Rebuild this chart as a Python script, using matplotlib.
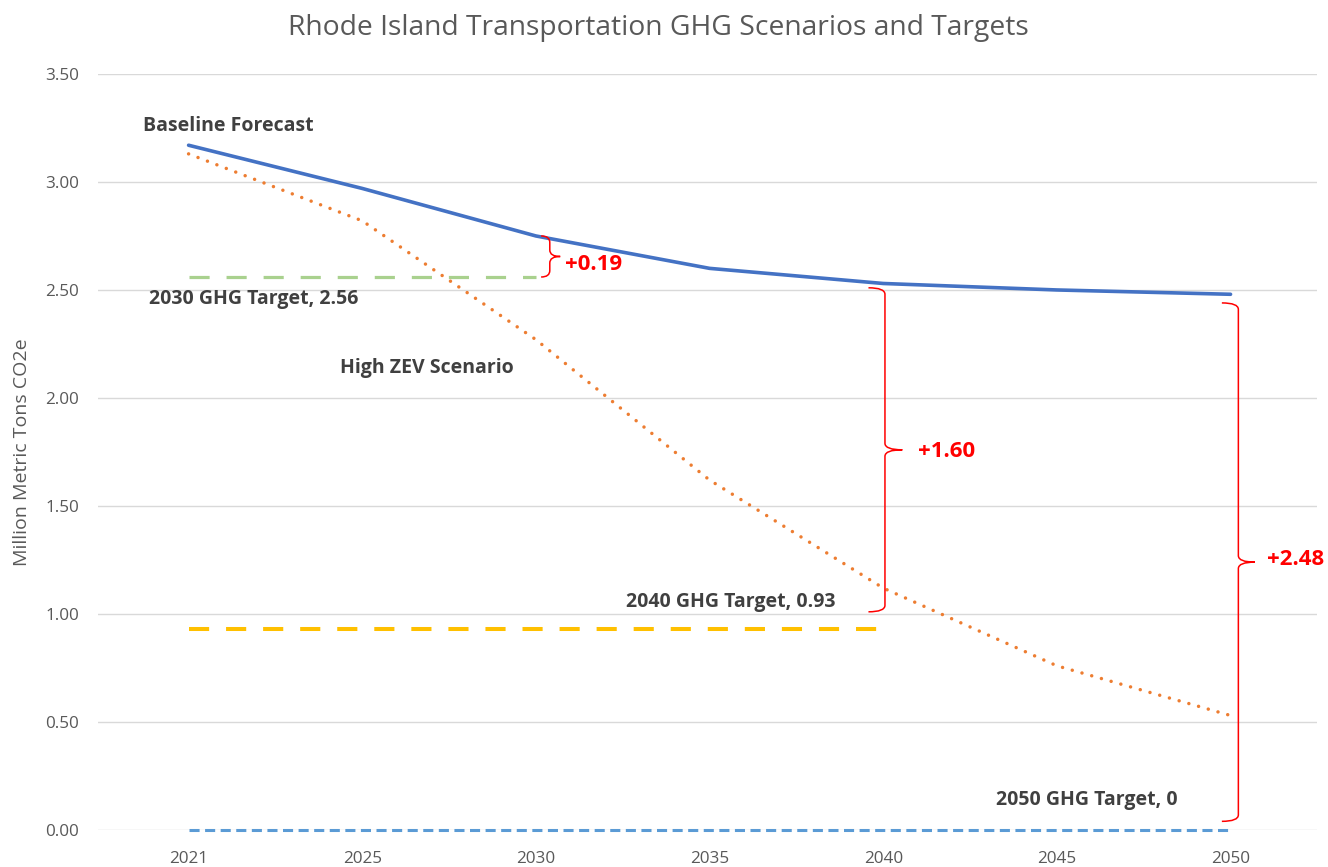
import matplotlib.pyplot as plt
from matplotlib.path import Path
from matplotlib.patches import PathPatch
import numpy as np

years = ['2021', '2025', '2030', '2035', '2040', '2045', '2050']
baseline = [3.17, 2.97, 2.75, 2.60, 2.53, 2.50, 2.48]
high_zev = [3.13, 2.82, 2.27, 1.62, 1.12, 0.76, 0.53]
target_2030 = [2.56, 2.56, 2.56]
target_2040 = [0.93, 0.93, 0.93, 0.93, 0.93]
target_2050 = [0, 0, 0, 0, 0, 0, 0]
gaps = ['+0.19', '+1.60', '+2.48']

plt.rcParams['font.family'] = ['Open Sans', 'DejaVu Sans']

fig = plt.figure(figsize=(13.28, 8.67), dpi=100)
ax = fig.add_axes([0.074, 0.0427, 0.918, 0.872])

x = np.arange(len(years))

ax.plot(x, baseline, color='#4472C4', lw=2.6, solid_capstyle='round', zorder=4)
ax.plot(x, high_zev, color='#ED7D31', lw=2.5, linestyle=(0, (0.01, 2.9)),
        dash_capstyle='round', zorder=4)
ax.plot(x[:3], target_2030, color='#A9D18E', lw=2.3, linestyle=(0, (6.3, 5.3)), zorder=3)
ax.plot(x[:5], target_2040, color='#FFC000', lw=2.9, linestyle=(0, (5.0, 4.2)), zorder=3)
ax.plot(x, target_2050, color='#5B9BD5', lw=2.2, linestyle=(0, (3.3, 1.8)),
        zorder=3, clip_on=False)

ax.set_xlim(-0.52, 6.5)
ax.set_ylim(0, 3.5)
ax.set_xticks(x)
ax.set_xticklabels(years)
ax.set_yticks(np.arange(0, 3.51, 0.5))
ax.set_yticklabels([f'{v:.2f}' for v in np.arange(0, 3.51, 0.5)])
ax.grid(axis='y', color='#D9D9D9', lw=1)
ax.set_axisbelow(True)
for s in ax.spines.values():
    s.set_visible(False)
ax.tick_params(length=0, labelsize=12.3, colors='#595959')
ax.tick_params(axis='x', pad=15)
ax.tick_params(axis='y', pad=14)
ax.set_ylabel('Million Metric Tons CO2e', color='#595959', fontsize=14, labelpad=10)

fig.text(0.496, 0.968, 'Rhode Island Transportation GHG Scenarios and Targets',
         ha='center', va='center', fontsize=20.3, color='#595959')

lab = dict(color='#404040', fontsize=14, fontweight='bold', va='center', ha='left')
ax.text(-0.26, 3.26, 'Baseline Forecast', **lab)
ax.text(-0.23, 2.46, '2030 GHG Target, 2.56', **lab)
ax.text(0.87, 2.14, 'High ZEV Scenario', **lab)
ax.text(2.52, 1.055, '2040 GHG Target, 0.93', **lab)
ax.text(4.65, 0.14, '2050 GHG Target, 0', **lab)


def brace(xl, xh, xt, y0, y1, d=0.03):
    ym = (y0 + y1) / 2
    verts = [(xh, y1), (xl, y1), (xl, y1 - d), (xl, ym + d), (xl, ym), (xt, ym),
             (xt, ym), (xl, ym), (xl, ym - d), (xl, y0 + d), (xl, y0), (xh, y0)]
    codes = [Path.MOVETO, Path.CURVE3, Path.CURVE3, Path.LINETO, Path.CURVE3, Path.CURVE3,
             Path.MOVETO, Path.CURVE3, Path.CURVE3, Path.LINETO, Path.CURVE3, Path.CURVE3]
    ax.add_patch(PathPatch(Path(verts, codes), fill=False, edgecolor='red', lw=1.1,
                           zorder=5, clip_on=False))


braces = [
    (2.08, 2.03, 2.14, 2.56, baseline[2]),
    (4.01, 3.915, 4.11, 1.01, 2.51),
    (6.045, 5.95, 6.14, 0.04, 2.44),
]
gap_pos = [(2.17, 2.62), (4.2, 1.75), (6.21, 1.25)]
for b, g, (gx, gy) in zip(braces, gaps, gap_pos):
    brace(*b)
    ax.text(gx, gy, g, color='red', fontsize=16, fontweight='bold',
            va='center', ha='left')

fig.savefig('out.png', dpi=100)
